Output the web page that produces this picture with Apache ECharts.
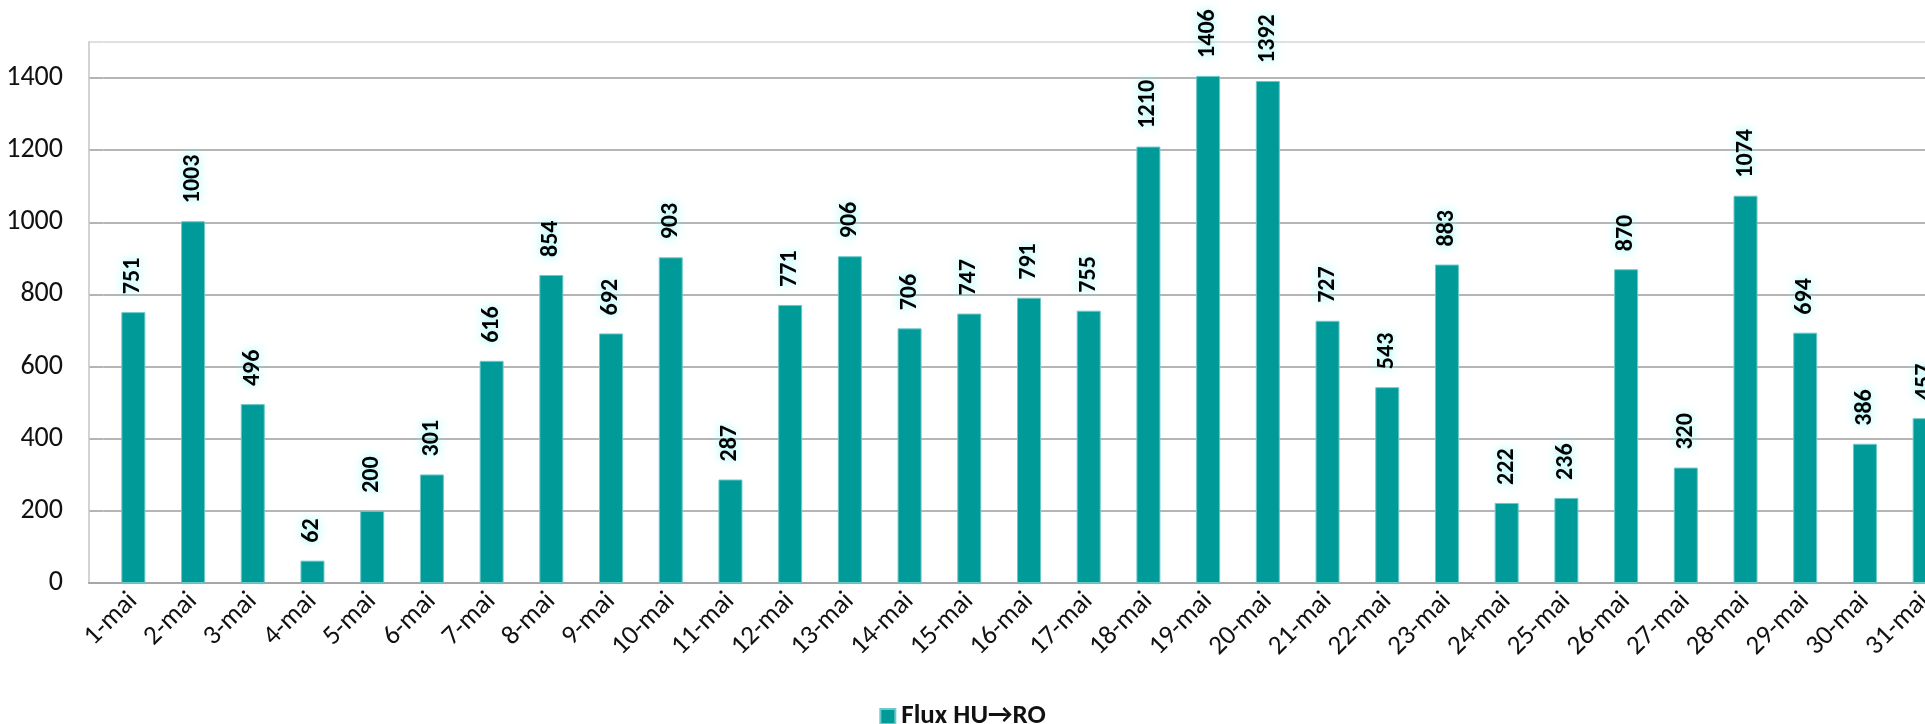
<!DOCTYPE html>
<html>
<head>
<meta charset="utf-8">
<script src="https://cdn.jsdelivr.net/npm/echarts@6/dist/echarts.min.js"></script>
<style>
html,body{margin:0;padding:0;background:#fff;}
#c{width:1925px;height:724px;}
</style>
</head>
<body>
<div id="c"></div>
<script>
const categories = ['1-mai','2-mai','3-mai','4-mai','5-mai','6-mai','7-mai','8-mai','9-mai','10-mai','11-mai','12-mai','13-mai','14-mai','15-mai','16-mai','17-mai','18-mai','19-mai','20-mai','21-mai','22-mai','23-mai','24-mai','25-mai','26-mai','27-mai','28-mai','29-mai','30-mai','31-mai'];
const fluxValues = [751,1003,496,62,200,301,616,854,692,903,287,771,906,706,747,791,755,1210,1406,1392,727,543,883,222,236,870,320,1074,694,386,457];
const seriesName = 'Flux HU\u2192RO';
const yMin = 0, yMax = 1500, yStep = 200;

const FONT = 'Carlito, Lato, "Noto Sans", sans-serif';
const gridColors = ['#9c9c9c','#9c9c9c','#9c9c9c','#9c9c9c','#9c9c9c','#9c9c9c','#9c9c9c','#9c9c9c','#d6d6d6'];

const chart = echarts.init(document.getElementById('c'), null, {renderer:'canvas'});
chart.setOption({
  backgroundColor:'#fff',
  animation:false,
  grid:[
    {left:89, width:14.5, top:42, bottom:141, outerBoundsMode:'none', containLabel:false},
    {left:103.5, width:1851, top:42, bottom:141, outerBoundsMode:'none', containLabel:false}
  ],
  legend:{
    data:[seriesName],
    left:'center',
    top:698,
    icon:'rect',
    itemWidth:15,
    itemHeight:15,
    itemGap:10,
    textStyle:{fontFamily:FONT, fontSize:27, fontWeight:'bold', color:'#111', padding:[0,0,0,1]}
  },
  xAxis:[
    {type:'category', gridIndex:0, data:[''],
     axisLine:{show:true, lineStyle:{color:'#a6a6a6', width:2}},
     axisTick:{show:false}, axisLabel:{show:false}},
    {type:'category', gridIndex:1, data:categories,
     axisLine:{show:true, lineStyle:{color:'#a6a6a6', width:2}},
     axisTick:{show:false},
     axisLabel:{rotate:45, margin:14, fontFamily:FONT, fontSize:27, color:'#111', interval:0}}
  ],
  yAxis:[
    {type:'value', gridIndex:0, min:yMin, max:yMax, interval:yStep,
     axisLine:{show:true, lineStyle:{color:'#c4c4c4', width:1.5}},
     axisTick:{show:false},
     axisLabel:{margin:26, fontFamily:FONT, fontSize:28, color:'#111', showMaxLabel:false,
       formatter:v => (v===yMax ? '' : String(v))},
     splitLine:{show:true, lineStyle:{color:gridColors, width:1.5}}},
    {type:'value', gridIndex:1, min:yMin, max:yMax, interval:yStep,
     axisLine:{show:false}, axisTick:{show:false}, axisLabel:{show:false},
     splitLine:{show:true, lineStyle:{color:gridColors, width:1.5}}}
  ],
  series:[{
    name:seriesName,
    type:'bar',
    xAxisIndex:1, yAxisIndex:1,
    data:fluxValues,
    barWidth:24,
    itemStyle:{color:'#009a99', borderColor:'#6cc9c8', borderWidth:1},
    label:{
      show:true, position:'top', distance:18, rotate:90, align:'left', verticalAlign:'middle',
      fontFamily:FONT, fontSize:24, fontWeight:'bold', color:'#000',
      textShadowColor:'#7ff5f5', textShadowBlur:10
    }
  }]
});
</script>
</body>
</html>
